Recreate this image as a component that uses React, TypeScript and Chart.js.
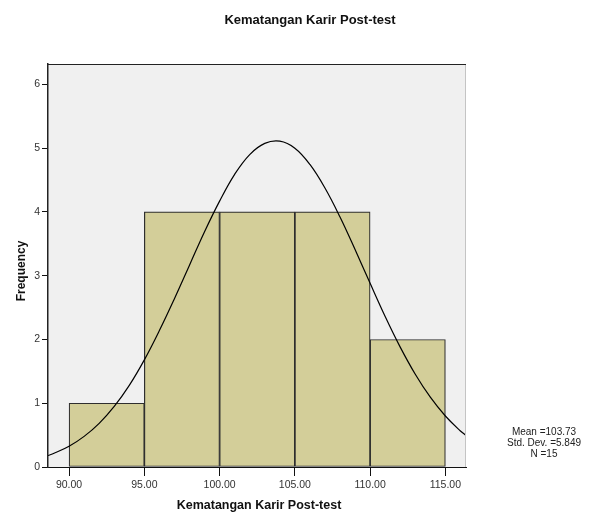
import { useEffect, useRef } from 'react';
import { Chart, registerables } from 'chart.js';

Chart.register(...registerables);

// Histogram bins (centres) and frequencies
const binCenters = [92.5, 97.5, 102.5, 107.5, 112.5];
const frequencies = [1, 4, 4, 4, 2];

// Normal fit curve
const curveX = [88.6, 89, 90, 91, 92, 93, 94, 95, 96, 97, 98, 99, 100, 101, 102, 103, 104, 105, 106, 107, 108, 109, 110, 111, 112, 113, 114, 115, 116, 116.37];
const curveY = [0.18, 0.215, 0.325, 0.48, 0.685, 0.95, 1.28, 1.68, 2.14, 2.64, 3.165, 3.69, 4.17, 4.59, 4.9, 5.075, 5.11, 5.0, 4.745, 4.375, 3.92, 3.41, 2.88, 2.36, 1.88, 1.455, 1.095, 0.8, 0.565, 0.495];

const xTicks = [90, 95, 100, 105, 110, 115];
const yTicks = [0, 1, 2, 3, 4, 5, 6];

const chartTitle = 'Kematangan Karir Post-test';
const xTitle = 'Kematangan Karir Post-test';
const yTitle = 'Frequency';
const statLines = ['Mean =103.73', 'Std. Dev. =5.849', 'N =15'];

const FONT = '"Liberation Sans", Arial, sans-serif';

export default function App() {
  const ref = useRef<HTMLCanvasElement | null>(null);

  useEffect(() => {
    document.body.style.margin = '0';
    const canvas = ref.current;
    if (!canvas) return;

    const decor = {
      id: 'decor',
      beforeDraw(chart: any) {
        const { ctx, chartArea: a } = chart;
        ctx.save();
        ctx.fillStyle = '#f0f0f0';
        ctx.fillRect(a.left, a.top, a.right - a.left, a.bottom - a.top);
        ctx.restore();
      },
      afterDraw(chart: any) {
        const { ctx, chartArea: a } = chart;
        ctx.save();
        ctx.strokeStyle = '#c4c4c4';
        ctx.lineWidth = 1;
        ctx.beginPath();
        ctx.moveTo(a.right - 0.5, a.top);
        ctx.lineTo(a.right - 0.5, a.bottom);
        ctx.stroke();
        ctx.strokeStyle = '#222';
        ctx.beginPath();
        ctx.moveTo(a.left, a.top + 0.5);
        ctx.lineTo(a.right, a.top + 0.5);
        ctx.stroke();

        ctx.fillStyle = '#111';
        ctx.textAlign = 'center';
        ctx.textBaseline = 'middle';
        ctx.font = `bold 13px ${FONT}`;
        ctx.fillText(chartTitle, 310, 20);
        ctx.font = `bold 12.5px ${FONT}`;
        ctx.fillText(xTitle, 259, 506);

        ctx.save();
        ctx.translate(22, 271);
        ctx.rotate(-Math.PI / 2);
        ctx.font = `bold 12px ${FONT}`;
        ctx.fillText(yTitle, 0, 0);
        ctx.restore();

        ctx.font = `10px ${FONT}`;
        ctx.fillStyle = '#222';
        statLines.forEach((t, i) => ctx.fillText(t, 544, 432 + i * 11));
        ctx.restore();
      },
    };

    const chart = new Chart(canvas, {
      type: 'bar',
      data: {
        datasets: [
          {
            type: 'line',
            data: curveX.map((x, i) => ({ x, y: curveY[i] })),
            borderColor: '#000',
            borderWidth: 1.2,
            pointRadius: 0,
            tension: 0.4,
            fill: false,
            order: 0,
          } as any,
          {
            type: 'bar',
            data: binCenters.map((x, i) => ({ x, y: frequencies[i] })),
            backgroundColor: 'rgb(211,206,153)',
            borderColor: '#2e2e2e',
            borderWidth: 1.2,
            borderSkipped: false,
            barPercentage: 1,
            categoryPercentage: 1,
            order: 1,
          } as any,
        ],
      },
      options: {
        responsive: false,
        animation: false,
        layout: { padding: { top: 64, right: 131, left: 0, bottom: 0 } },
        plugins: { legend: { display: false }, tooltip: { enabled: false }, title: { display: false } },
        scales: {
          x: {
            type: 'linear',
            min: 88.6,
            max: 116.37,
            offset: false,
            afterBuildTicks: (s: any) => { s.ticks = xTicks.map((v) => ({ value: v })); },
            afterFit: (s: any) => { s.height = 46; },
            ticks: {
              callback: (v: any) => Number(v).toFixed(2),
              font: { family: FONT, size: 10.5 },
              color: '#333',
              padding: 3,
              maxRotation: 0,
              autoSkip: false,
            },
            grid: { display: true, offset: false, drawOnChartArea: false, drawTicks: true, tickLength: 9, color: '#111', lineWidth: 1 },
            border: { display: true, color: '#111', width: 1 },
          },
          y: {
            type: 'linear',
            min: 0,
            max: 6.32,
            afterBuildTicks: (s: any) => { s.ticks = yTicks.map((v) => ({ value: v })); },
            afterFit: (s: any) => { s.width = 48; },
            ticks: {
              font: { family: FONT, size: 10.5 },
              color: '#333',
              padding: 2,
            },
            grid: { display: true, drawOnChartArea: false, drawTicks: true, tickLength: 6, color: '#111', lineWidth: 1 },
            border: { display: true, color: '#222', width: 1.5 },
          },
        },
      },
      plugins: [decor],
    });

    return () => chart.destroy();
  }, []);

  return (
    <div style={{ position: 'absolute', left: 0, top: 0, width: 597, height: 513, background: '#fff' }}>
      <canvas ref={ref} width={597} height={513} style={{ width: 597, height: 513, display: 'block' }} />
    </div>
  );
}
